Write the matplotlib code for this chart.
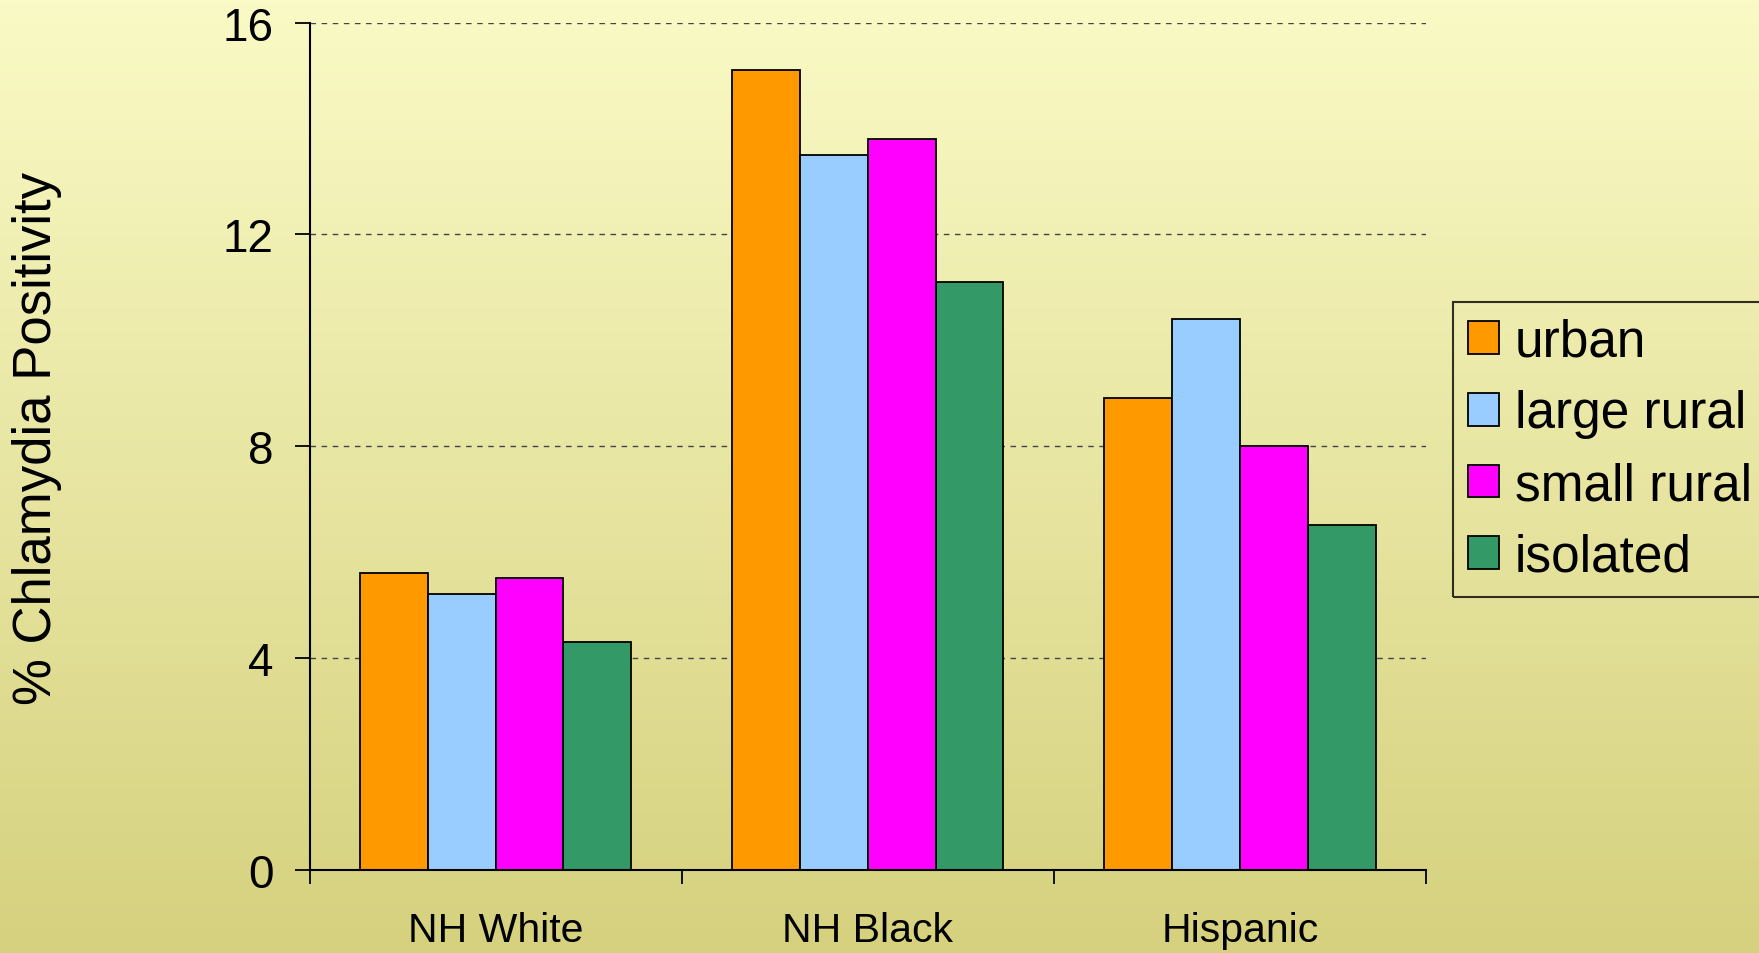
import numpy as np
import matplotlib
matplotlib.use("Agg")
import matplotlib.pyplot as plt
from matplotlib.colors import LinearSegmentedColormap

# Chlamydia positivity by race/ethnicity and residence type
groups = ["NH White", "NH Black", "Hispanic"]
series = ["urban", "large rural", "small rural", "isolated"]
urban = [5.6, 15.1, 8.9]
large_rural = [5.2, 13.5, 10.4]
small_rural = [5.5, 13.8, 8.0]
isolated = [4.3, 11.1, 6.5]
yticks = [0, 4, 8, 12, 16]

colors = ["#FF9900", "#99CCFF", "#FF00FF", "#339966"]
values = [urban, large_rural, small_rural, isolated]

plt.rcParams["font.family"] = ["Liberation Sans", "DejaVu Sans"]

fig = plt.figure(figsize=(17.59, 9.54), dpi=100)

# vertical gradient backdrop
bg = fig.add_axes([0, 0, 1, 1], zorder=-10)
cmap = LinearSegmentedColormap.from_list("bg", ["#FAFAC6", "#D5D17E"])
grad = np.linspace(0, 1, 256).reshape(-1, 1)
bg.imshow(grad, aspect="auto", cmap=cmap, extent=[0, 1, 0, 1], origin="upper")
bg.set_axis_off()

ax = fig.add_axes([0.176, 0.0875, 0.6346, 0.8877])
ax.patch.set_alpha(0)

x = np.arange(len(groups))
width = 0.1824
for i, (name, vals, c) in enumerate(zip(series, values, colors)):
    offs = (i - 1.5) * width
    ax.bar(x + offs, vals, width, color=c, edgecolor="black", linewidth=1.3,
           label=name, zorder=3)

ax.set_xlim(-0.5, 2.5)
ax.set_ylim(0, 16)
ax.set_yticks(yticks)
ax.set_yticklabels([str(t) for t in yticks], fontsize=33)
for t in yticks[1:]:
    ax.axhline(t, color="#444444", linewidth=1.0, linestyle=(0, (4, 4)), zorder=1)

ax.set_xticks([-0.5, 0.5, 1.5, 2.5])
ax.set_xticklabels([])
ax.set_xticks(x, minor=True)
ax.set_xticklabels(groups, minor=True, fontsize=29.5)
ax.tick_params(axis="x", which="minor", length=0, pad=30)
ax.tick_params(axis="x", which="major", length=10, width=1.3, direction="out")
ax.tick_params(axis="y", length=11, width=1.3, direction="out", pad=15)

for s in ["top", "right"]:
    ax.spines[s].set_visible(False)
for s in ["left", "bottom"]:
    ax.spines[s].set_linewidth(1.5)
    ax.spines[s].set_zorder(4)

ax.set_ylabel("% Chlamydia Positivity", fontsize=38, labelpad=0)
ax.yaxis.set_label_coords(-0.222, 0.51)

leg = fig.legend(loc="upper left", bbox_to_anchor=(0.826, 0.682),
                 bbox_transform=fig.transFigure, fontsize=37, frameon=True,
                 fancybox=False, handlelength=0.6, handleheight=0.6,
                 handletextpad=0.3, labelspacing=0.44, borderpad=0.3,
                 borderaxespad=0)
leg.get_frame().set_edgecolor("black")
leg.get_frame().set_linewidth(1.5)
leg.get_frame().set_facecolor("none")

fig.savefig("out.png", dpi=100)
